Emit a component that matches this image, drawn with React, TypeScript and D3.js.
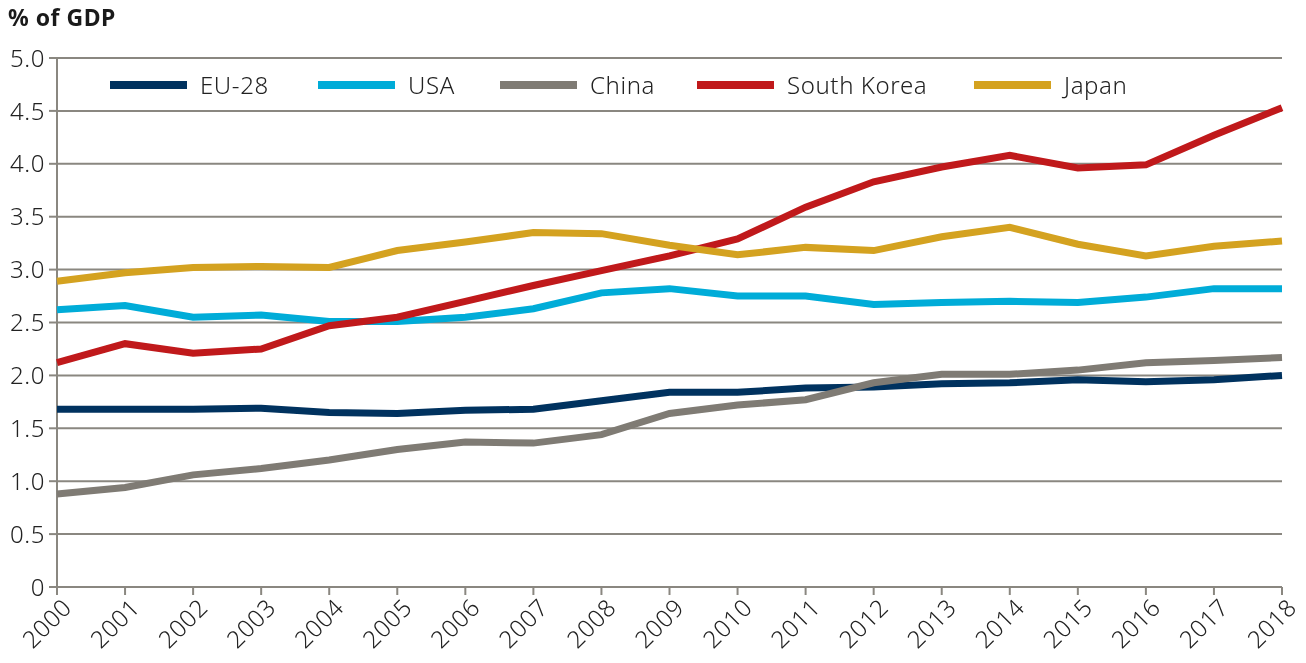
import React from 'react';
import * as d3 from 'd3';

const years = d3.range(2000, 2019);
const euValues = [1.68, 1.68, 1.68, 1.69, 1.65, 1.64, 1.67, 1.68, 1.76, 1.84, 1.84, 1.88, 1.89, 1.92, 1.93, 1.96, 1.94, 1.96, 2.0];
const usaValues = [2.62, 2.66, 2.55, 2.57, 2.51, 2.51, 2.55, 2.63, 2.78, 2.82, 2.75, 2.75, 2.67, 2.69, 2.7, 2.69, 2.74, 2.82, 2.82];
const chinaValues = [0.88, 0.94, 1.06, 1.12, 1.2, 1.3, 1.37, 1.36, 1.44, 1.64, 1.72, 1.77, 1.93, 2.01, 2.01, 2.05, 2.12, 2.14, 2.17];
const koreaValues = [2.12, 2.3, 2.21, 2.25, 2.47, 2.55, 2.7, 2.85, 2.99, 3.13, 3.29, 3.59, 3.83, 3.97, 4.08, 3.96, 3.99, 4.27, 4.53];
const japanValues = [2.89, 2.97, 3.02, 3.03, 3.02, 3.18, 3.26, 3.35, 3.34, 3.23, 3.14, 3.21, 3.18, 3.31, 3.4, 3.24, 3.13, 3.22, 3.27];
const yTicks = [0, 0.5, 1, 1.5, 2, 2.5, 3, 3.5, 4, 4.5, 5];

const series = [
    { name: 'EU-28', values: euValues, color: '#00325f', legendX: 110 },
    { name: 'USA', values: usaValues, color: '#00acd8', legendX: 318 },
    { name: 'China', values: chinaValues, color: '#7f7b74', legendX: 500 },
    { name: 'South Korea', values: koreaValues, color: '#c0191b', legendX: 697 },
    { name: 'Japan', values: japanValues, color: '#d4a220', legendX: 974 },
];

const width = 1306;
const height = 663;
const margin = { top: 58, right: 24, bottom: 76, left: 57 };
const font = "'Noto Sans', 'DejaVu Sans', sans-serif";

export default function App() {
    const x = d3.scaleLinear().domain([2000, 2018]).range([margin.left, width - margin.right]);
    const y = d3.scaleLinear().domain([0, 5]).range([height - margin.bottom, margin.top]);

    const line = d3.line<number>()
        .x((_, i) => x(years[i]))
        .y(d => y(d));

    const axisColor = '#8a8780';

    return (
        <div style={{ position: 'fixed', left: 0, top: 0 }}>
            <svg width={width} height={height} style={{ display: 'block', fontFamily: font }}>
                <text x={8} y={26} fontSize={23} fontWeight="bold" letterSpacing={0.5} fill="#1a1a1a">% of GDP</text>

                {/* grid + y ticks */}
                {yTicks.map(t => (
                    <g key={t}>
                        {t > 0 && (
                            <line x1={margin.left} x2={x(2018)} y1={y(t)} y2={y(t)} stroke={axisColor} strokeWidth={2} />
                        )}
                        <line x1={margin.left - 8} x2={margin.left} y1={y(t)} y2={y(t)} stroke={axisColor} strokeWidth={2} />
                        <text x={45} y={y(t)} dy="0.36em" textAnchor="end" fontSize={24} fontWeight={300} letterSpacing={0.6} fill="#222">
                            {t === 0 ? '0' : d3.format('.1f')(t)}
                        </text>
                    </g>
                ))}

                {/* x axis */}
                <line x1={margin.left} x2={x(2018)} y1={y(0)} y2={y(0)} stroke={axisColor} strokeWidth={2} />
                <line x1={margin.left} x2={margin.left} y1={y(5)} y2={y(0) + 8} stroke={axisColor} strokeWidth={2} />
                {years.map(yr => (
                    <g key={yr}>
                        <line x1={x(yr)} x2={x(yr)} y1={y(0)} y2={y(0) + 8} stroke={axisColor} strokeWidth={2} />
                        <text
                            transform={`translate(${x(yr) + 4}, ${y(0) + 10}) rotate(-45)`}
                            textAnchor="end"
                            dy="0.72em"
                            fontSize={24}
                            fontWeight={300}
                            letterSpacing={0.6}
                            fill="#222"
                        >
                            {yr}
                        </text>
                    </g>
                ))}

                {/* lines */}
                {series.map(s => (
                    <path key={s.name} d={line(s.values) ?? ''} fill="none" stroke={s.color} strokeWidth={7} strokeLinejoin="miter" />
                ))}

                {/* legend */}
                {series.map(s => (
                    <g key={s.name + '-legend'}>
                        <line x1={s.legendX} x2={s.legendX + 77} y1={85} y2={85} stroke={s.color} strokeWidth={8} />
                        <text x={s.legendX + 90} y={85} dy="0.36em" fontSize={24} fontWeight={300} letterSpacing={0.6} fill="#222">{s.name}</text>
                    </g>
                ))}
            </svg>
        </div>
    );
}
